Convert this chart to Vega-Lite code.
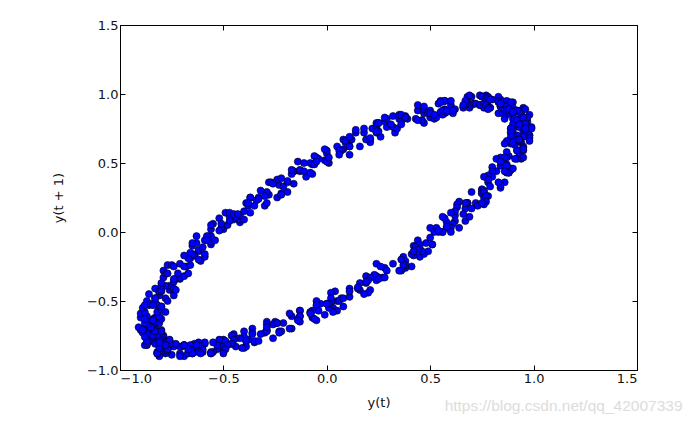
{
"$schema":"https://vega.github.io/schema/vega-lite/v6.json",
"width":517,"height":345,
"autosize":{"type":"none"},
"padding":{"left":120,"top":25,"right":53,"bottom":56},
"background":"white",
"title":{"text":"https://blog.csdn.net/qq_42007339","orient":"bottom","anchor":"end","color":"#dcdcdc","fontSize":15.5,"font":"Liberation Sans","fontWeight":"normal","dx":45,"dy":-14},
"config":{"view":{"stroke":"#000","strokeWidth":1},
"axis":{"labelFont":"DejaVu Sans","labelFontSize":13,"labelColor":"#111","titleFont":"DejaVu Sans","titleFontSize":13,"titleFontWeight":"normal","titleColor":"#111","grid":false,"domainColor":"#000","tickColor":"#000","tickSize":-5,"labelPadding":7,"format":".1f"}},
"data":{"values":[
{"x":0,"y":0.57},{"x":0,"y":0.59},{"x":0.11,"y":0.56},{"x":0.08,"y":0.60},{"x":0.05,"y":0.62},{"x":0.11,"y":0.66},{"x":0.12,"y":0.67},{"x":0.07,"y":0.59},{"x":0.08,"y":0.67},{"x":0.09,"y":0.65},
{"x":0.09,"y":0.66},{"x":0.11,"y":0.62},{"x":0.11,"y":0.69},{"x":0.11,"y":0.62},{"x":0.18,"y":0.72},{"x":0.16,"y":0.62},{"x":0.14,"y":0.72},{"x":0.21,"y":0.67},{"x":0.14,"y":0.74},{"x":0.21,"y":0.65},
{"x":0.22,"y":0.75},{"x":0.18,"y":0.75},{"x":0.26,"y":0.69},{"x":0.24,"y":0.72},{"x":0.19,"y":0.67},{"x":0.24,"y":0.76},{"x":0.21,"y":0.68},{"x":0.29,"y":0.76},{"x":0.25,"y":0.79},{"x":0.25,"y":0.73},
{"x":0.28,"y":0.80},{"x":0.24,"y":0.73},{"x":0.24,"y":0.79},{"x":0.33,"y":0.72},{"x":0.32,"y":0.76},{"x":0.25,"y":0.79},{"x":0.29,"y":0.82},{"x":0.34,"y":0.75},{"x":0.28,"y":0.83},{"x":0.38,"y":0.84},
{"x":0.39,"y":0.82},{"x":0.32,"y":0.84},{"x":0.31,"y":0.78},{"x":0.35,"y":0.84},{"x":0.35,"y":0.82},{"x":0.36,"y":0.80},{"x":0.36,"y":0.78},{"x":0.35,"y":0.85},{"x":0.36,"y":0.85},{"x":0.44,"y":0.88},
{"x":0.46,"y":0.81},{"x":0.38,"y":0.83},{"x":0.47,"y":0.79},{"x":0.47,"y":0.86},{"x":0.46,"y":0.81},{"x":0.43,"y":0.82},{"x":0.50,"y":0.83},{"x":0.44,"y":0.81},{"x":0.50,"y":0.88},{"x":0.47,"y":0.89},
{"x":0.44,"y":0.92},{"x":0.47,"y":0.91},{"x":0.49,"y":0.86},{"x":0.52,"y":0.82},{"x":0.57,"y":0.89},{"x":0.53,"y":0.83},{"x":0.54,"y":0.93},{"x":0.50,"y":0.86},{"x":0.52,"y":0.85},{"x":0.57,"y":0.86},
{"x":0.57,"y":0.88},{"x":0.57,"y":0.95},{"x":0.56,"y":0.85},{"x":0.61,"y":0.86},{"x":0.55,"y":0.95},{"x":0.57,"y":0.95},{"x":0.55,"y":0.87},{"x":0.55,"y":0.94},{"x":0.60,"y":0.92},{"x":0.56,"y":0.88},
{"x":0.66,"y":0.91},{"x":0.58,"y":0.87},{"x":0.60,"y":0.95},{"x":0.58,"y":0.88},{"x":0.69,"y":0.90},{"x":0.68,"y":0.93},{"x":0.62,"y":0.89},{"x":0.61,"y":0.88},{"x":0.68,"y":0.94},{"x":0.68,"y":0.98},
{"x":0.70,"y":0.92},{"x":0.67,"y":0.95},{"x":0.66,"y":0.90},{"x":0.74,"y":0.92},{"x":0.74,"y":0.99},{"x":0.71,"y":0.93},{"x":0.76,"y":0.92},{"x":0.66,"y":0.92},{"x":0.76,"y":0.90},{"x":0.77,"y":0.96},
{"x":0.72,"y":0.93},{"x":0.70,"y":0.98},{"x":0.78,"y":0.90},{"x":0.69,"y":0.99},{"x":0.78,"y":0.95},{"x":0.77,"y":0.96},{"x":0.77,"y":0.99},{"x":0.74,"y":0.92},{"x":0.76,"y":0.93},{"x":0.79,"y":0.90},
{"x":0.75,"y":0.98},{"x":0.77,"y":0.97},{"x":0.80,"y":0.96},{"x":0.78,"y":0.98},{"x":0.77,"y":0.92},{"x":0.78,"y":0.97},{"x":0.84,"y":0.96},{"x":0.83,"y":0.98},{"x":0.79,"y":0.90},{"x":0.83,"y":0.95},
{"x":0.79,"y":0.96},{"x":0.78,"y":0.90},{"x":0.78,"y":0.89},{"x":0.88,"y":0.88},{"x":0.89,"y":0.89},{"x":0.83,"y":0.94},{"x":0.86,"y":0.92},{"x":0.88,"y":0.94},{"x":0.87,"y":0.94},{"x":0.90,"y":0.89},
{"x":0.84,"y":0.91},{"x":0.88,"y":0.87},{"x":0.84,"y":0.91},{"x":0.90,"y":0.94},{"x":0.83,"y":0.86},{"x":0.86,"y":0.92},{"x":0.86,"y":0.89},{"x":0.84,"y":0.93},{"x":0.90,"y":0.90},{"x":0.92,"y":0.88},
{"x":0.85,"y":0.88},{"x":0.87,"y":0.95},{"x":0.87,"y":0.92},{"x":0.84,"y":0.93},{"x":0.87,"y":0.91},{"x":0.85,"y":0.86},{"x":0.89,"y":0.94},{"x":0.86,"y":0.88},{"x":0.87,"y":0.85},{"x":0.94,"y":0.86},
{"x":0.94,"y":0.84},{"x":0.90,"y":0.88},{"x":0.95,"y":0.90},{"x":0.86,"y":0.82},{"x":0.94,"y":0.88},{"x":0.87,"y":0.88},{"x":0.90,"y":0.82},{"x":0.93,"y":0.87},{"x":0.96,"y":0.89},{"x":0.88,"y":0.88},
{"x":0.92,"y":0.88},{"x":0.97,"y":0.80},{"x":0.94,"y":0.81},{"x":0.88,"y":0.89},{"x":0.90,"y":0.78},{"x":0.98,"y":0.85},{"x":0.90,"y":0.86},{"x":0.90,"y":0.87},{"x":0.91,"y":0.82},{"x":0.93,"y":0.76},
{"x":0.99,"y":0.76},{"x":0.97,"y":0.76},{"x":0.95,"y":0.78},{"x":0.96,"y":0.79},{"x":0.92,"y":0.81},{"x":0.97,"y":0.83},{"x":0.99,"y":0.75},{"x":0.95,"y":0.83},{"x":0.89,"y":0.75},{"x":0.96,"y":0.72},
{"x":0.89,"y":0.72},{"x":0.90,"y":0.74},{"x":0.92,"y":0.70},{"x":0.95,"y":0.73},{"x":0.89,"y":0.75},{"x":0.93,"y":0.78},{"x":0.98,"y":0.70},{"x":0.89,"y":0.72},{"x":0.96,"y":0.74},{"x":0.95,"y":0.69},
{"x":0.90,"y":0.69},{"x":0.98,"y":0.70},{"x":0.90,"y":0.69},{"x":0.96,"y":0.75},{"x":0.94,"y":0.65},{"x":0.98,"y":0.68},{"x":0.89,"y":0.69},{"x":0.89,"y":0.64},{"x":0.95,"y":0.62},{"x":0.98,"y":0.66},
{"x":0.91,"y":0.63},{"x":0.88,"y":0.66},{"x":0.95,"y":0.61},{"x":0.95,"y":0.59},{"x":0.90,"y":0.65},{"x":0.93,"y":0.66},{"x":0.93,"y":0.67},{"x":0.93,"y":0.67},{"x":0.87,"y":0.66},{"x":0.92,"y":0.59},
{"x":0.86,"y":0.64},{"x":0.88,"y":0.55},{"x":0.95,"y":0.60},{"x":0.87,"y":0.54},{"x":0.93,"y":0.55},{"x":0.94,"y":0.53},{"x":0.95,"y":0.54},{"x":0.87,"y":0.58},{"x":0.85,"y":0.50},{"x":0.92,"y":0.59},
{"x":0.87,"y":0.49},{"x":0.84,"y":0.54},{"x":0.84,"y":0.48},{"x":0.92,"y":0.53},{"x":0.86,"y":0.54},{"x":0.82,"y":0.53},{"x":0.86,"y":0.48},{"x":0.89,"y":0.46},{"x":0.84,"y":0.51},{"x":0.91,"y":0.53},
{"x":0.88,"y":0.43},{"x":0.89,"y":0.45},{"x":0.90,"y":0.46},{"x":0.87,"y":0.48},{"x":0.82,"y":0.44},{"x":0.80,"y":0.47},{"x":0.88,"y":0.43},{"x":0.87,"y":0.43},{"x":0.80,"y":0.44},{"x":0.80,"y":0.40},
{"x":0.86,"y":0.44},{"x":0.78,"y":0.36},{"x":0.78,"y":0.41},{"x":0.86,"y":0.36},{"x":0.84,"y":0.32},{"x":0.84,"y":0.34},{"x":0.75,"y":0.31},{"x":0.76,"y":0.40},{"x":0.78,"y":0.38},{"x":0.75,"y":0.30},
{"x":0.83,"y":0.36},{"x":0.76,"y":0.30},{"x":0.79,"y":0.33},{"x":0.75,"y":0.28},{"x":0.78,"y":0.26},{"x":0.75,"y":0.28},{"x":0.70,"y":0.29},{"x":0.76,"y":0.29},{"x":0.76,"y":0.25},{"x":0.72,"y":0.21},
{"x":0.77,"y":0.26},{"x":0.68,"y":0.21},{"x":0.68,"y":0.21},{"x":0.77,"y":0.22},{"x":0.76,"y":0.20},{"x":0.73,"y":0.19},{"x":0.75,"y":0.21},{"x":0.67,"y":0.17},{"x":0.68,"y":0.21},{"x":0.67,"y":0.21},
{"x":0.64,"y":0.22},{"x":0.63,"y":0.20},{"x":0.62,"y":0.12},{"x":0.63,"y":0.18},{"x":0.70,"y":0.17},{"x":0.67,"y":0.08},{"x":0.69,"y":0.11},{"x":0.62,"y":0.15},{"x":0.58,"y":0.07},{"x":0.66,"y":0.13},
{"x":0.57,"y":0.10},{"x":0.60,"y":0.14},{"x":0.58,"y":0.03},{"x":0.64,"y":0.03},{"x":0.62,"y":0.08},{"x":0.56,"y":0.11},{"x":0.56,"y":0},{"x":0.61,"y":0.06},{"x":0.60,"y":0.03},{"x":0.54,"y":0},
{"x":0.60,"y":0},{"x":0.58,"y":0.04},{"x":0.53,"y":0.03},{"x":0.50,"y":0.03},{"x":0.52,"y":0},{"x":0.56,"y":0},{"x":0.54,"y":0.01},{"x":0.51,"y":-0.09},{"x":0.51,"y":-0.09},{"x":0.48,"y":-0.08},
{"x":0.44,"y":-0.12},{"x":0.44,"y":-0.06},{"x":0.50,"y":-0.04},{"x":0.44,"y":-0.11},{"x":0.49,"y":-0.14},{"x":0.45,"y":-0.09},{"x":0.42,"y":-0.10},{"x":0.43,"y":-0.11},{"x":0.45,"y":-0.18},{"x":0.47,"y":-0.16},
{"x":0.45,"y":-0.12},{"x":0.46,"y":-0.14},{"x":0.44,"y":-0.13},{"x":0.37,"y":-0.18},{"x":0.38,"y":-0.21},{"x":0.42,"y":-0.17},{"x":0.41,"y":-0.16},{"x":0.42,"y":-0.14},{"x":0.38,"y":-0.26},{"x":0.41,"y":-0.25},
{"x":0.38,"y":-0.24},{"x":0.37,"y":-0.24},{"x":0.36,"y":-0.28},{"x":0.36,"y":-0.20},{"x":0.35,"y":-0.28},{"x":0.28,"y":-0.26},{"x":0.32,"y":-0.23},{"x":0.29,"y":-0.28},{"x":0.24,"y":-0.23},{"x":0.24,"y":-0.32},
{"x":0.24,"y":-0.33},{"x":0.26,"y":-0.25},{"x":0.27,"y":-0.33},{"x":0.25,"y":-0.33},{"x":0.19,"y":-0.37},{"x":0.23,"y":-0.31},{"x":0.24,"y":-0.35},{"x":0.28,"y":-0.33},{"x":0.25,"y":-0.34},{"x":0.19,"y":-0.32},
{"x":0.16,"y":-0.42},{"x":0.21,"y":-0.42},{"x":0.21,"y":-0.33},{"x":0.15,"y":-0.41},{"x":0.20,"y":-0.35},{"x":0.19,"y":-0.36},{"x":0.20,"y":-0.44},{"x":0.16,"y":-0.37},{"x":0.18,"y":-0.45},{"x":0.11,"y":-0.41},
{"x":0.11,"y":-0.47},{"x":0.07,"y":-0.48},{"x":0.15,"y":-0.40},{"x":0.11,"y":-0.43},{"x":0.05,"y":-0.50},{"x":0.06,"y":-0.50},{"x":0.04,"y":-0.43},{"x":0.02,"y":-0.51},{"x":0.02,"y":-0.44},{"x":0.08,"y":-0.54},
{"x":0.08,"y":-0.48},{"x":0.03,"y":-0.55},{"x":0,"y":-0.52},{"x":0.01,"y":-0.55},{"x":0.05,"y":-0.57},{"x":0.02,"y":-0.48},{"x":0.03,"y":-0.58},{"x":-0.03,"y":-0.52},{"x":-0.05,"y":-0.50},{"x":0.01,"y":-0.52},
{"x":-0.05,"y":-0.53},{"x":-0.01,"y":-0.60},{"x":-0.07,"y":-0.62},{"x":0,"y":-0.52},{"x":-0.05,"y":-0.64},{"x":-0.06,"y":-0.63},{"x":-0.04,"y":-0.57},{"x":-0.13,"y":-0.57},{"x":-0.13,"y":-0.65},{"x":-0.14,"y":-0.63},
{"x":-0.13,"y":-0.57},{"x":-0.07,"y":-0.57},{"x":-0.08,"y":-0.58},{"x":-0.08,"y":-0.59},{"x":-0.17,"y":-0.61},{"x":-0.18,"y":-0.59},{"x":-0.13,"y":-0.61},{"x":-0.21,"y":-0.66},{"x":-0.13,"y":-0.61},{"x":-0.17,"y":-0.70},
{"x":-0.24,"y":-0.66},{"x":-0.14,"y":-0.64},{"x":-0.23,"y":-0.72},{"x":-0.18,"y":-0.70},{"x":-0.25,"y":-0.65},{"x":-0.26,"y":-0.67},{"x":-0.29,"y":-0.65},{"x":-0.22,"y":-0.72},{"x":-0.29,"y":-0.67},{"x":-0.24,"y":-0.66},
{"x":-0.26,"y":-0.77},{"x":-0.30,"y":-0.73},{"x":-0.29,"y":-0.71},{"x":-0.23,"y":-0.73},{"x":-0.29,"y":-0.72},{"x":-0.32,"y":-0.74},{"x":-0.29,"y":-0.69},{"x":-0.36,"y":-0.70},{"x":-0.35,"y":-0.80},{"x":-0.36,"y":-0.73},
{"x":-0.35,"y":-0.79},{"x":-0.33,"y":-0.79},{"x":-0.38,"y":-0.78},{"x":-0.40,"y":-0.72},{"x":-0.40,"y":-0.76},{"x":-0.39,"y":-0.79},{"x":-0.39,"y":-0.79},{"x":-0.36,"y":-0.74},{"x":-0.39,"y":-0.83},{"x":-0.42,"y":-0.77},
{"x":-0.44,"y":-0.77},{"x":-0.45,"y":-0.74},{"x":-0.44,"y":-0.83},{"x":-0.46,"y":-0.75},{"x":-0.40,"y":-0.84},{"x":-0.41,"y":-0.84},{"x":-0.50,"y":-0.85},{"x":-0.50,"y":-0.86},{"x":-0.51,"y":-0.83},{"x":-0.50,"y":-0.83},
{"x":-0.45,"y":-0.78},{"x":-0.50,"y":-0.78},{"x":-0.46,"y":-0.81},{"x":-0.52,"y":-0.78},{"x":-0.46,"y":-0.81},{"x":-0.49,"y":-0.79},{"x":-0.48,"y":-0.82},{"x":-0.53,"y":-0.85},{"x":-0.56,"y":-0.88},{"x":-0.49,"y":-0.85},
{"x":-0.50,"y":-0.88},{"x":-0.55,"y":-0.87},{"x":-0.60,"y":-0.82},{"x":-0.59,"y":-0.81},{"x":-0.60,"y":-0.81},{"x":-0.53,"y":-0.82},{"x":-0.55,"y":-0.80},{"x":-0.61,"y":-0.86},{"x":-0.56,"y":-0.87},{"x":-0.64,"y":-0.87},
{"x":-0.59,"y":-0.80},{"x":-0.56,"y":-0.88},{"x":-0.60,"y":-0.87},{"x":-0.62,"y":-0.80},{"x":-0.67,"y":-0.87},{"x":-0.65,"y":-0.82},{"x":-0.60,"y":-0.85},{"x":-0.62,"y":-0.87},{"x":-0.62,"y":-0.82},{"x":-0.61,"y":-0.88},
{"x":-0.69,"y":-0.90},{"x":-0.64,"y":-0.81},{"x":-0.65,"y":-0.84},{"x":-0.69,"y":-0.82},{"x":-0.65,"y":-0.88},{"x":-0.63,"y":-0.82},{"x":-0.71,"y":-0.88},{"x":-0.67,"y":-0.88},{"x":-0.66,"y":-0.82},{"x":-0.66,"y":-0.85},
{"x":-0.65,"y":-0.88},{"x":-0.67,"y":-0.85},{"x":-0.75,"y":-0.81},{"x":-0.70,"y":-0.83},{"x":-0.69,"y":-0.82},{"x":-0.76,"y":-0.82},{"x":-0.71,"y":-0.83},{"x":-0.69,"y":-0.82},{"x":-0.78,"y":-0.85},{"x":-0.75,"y":-0.89},
{"x":-0.78,"y":-0.82},{"x":-0.78,"y":-0.88},{"x":-0.78,"y":-0.83},{"x":-0.71,"y":-0.90},{"x":-0.74,"y":-0.83},{"x":-0.80,"y":-0.87},{"x":-0.81,"y":-0.90},{"x":-0.80,"y":-0.80},{"x":-0.80,"y":-0.81},{"x":-0.73,"y":-0.81},
{"x":-0.76,"y":-0.82},{"x":-0.82,"y":-0.88},{"x":-0.82,"y":-0.79},{"x":-0.77,"y":-0.79},{"x":-0.84,"y":-0.78},{"x":-0.82,"y":-0.87},{"x":-0.77,"y":-0.84},{"x":-0.82,"y":-0.88},{"x":-0.84,"y":-0.78},{"x":-0.76,"y":-0.78},
{"x":-0.78,"y":-0.86},{"x":-0.77,"y":-0.85},{"x":-0.77,"y":-0.86},{"x":-0.77,"y":-0.85},{"x":-0.78,"y":-0.82},{"x":-0.81,"y":-0.76},{"x":-0.87,"y":-0.82},{"x":-0.81,"y":-0.84},{"x":-0.85,"y":-0.79},{"x":-0.85,"y":-0.78},
{"x":-0.88,"y":-0.82},{"x":-0.79,"y":-0.76},{"x":-0.84,"y":-0.76},{"x":-0.87,"y":-0.81},{"x":-0.83,"y":-0.81},{"x":-0.82,"y":-0.76},{"x":-0.87,"y":-0.79},{"x":-0.79,"y":-0.75},{"x":-0.81,"y":-0.76},{"x":-0.81,"y":-0.80},
{"x":-0.86,"y":-0.73},{"x":-0.90,"y":-0.71},{"x":-0.87,"y":-0.74},{"x":-0.80,"y":-0.71},{"x":-0.80,"y":-0.74},{"x":-0.80,"y":-0.74},{"x":-0.82,"y":-0.75},{"x":-0.80,"y":-0.72},{"x":-0.84,"y":-0.68},{"x":-0.84,"y":-0.70},
{"x":-0.84,"y":-0.75},{"x":-0.83,"y":-0.69},{"x":-0.89,"y":-0.73},{"x":-0.91,"y":-0.69},{"x":-0.84,"y":-0.69},{"x":-0.88,"y":-0.76},{"x":-0.88,"y":-0.69},{"x":-0.88,"y":-0.69},{"x":-0.87,"y":-0.66},{"x":-0.85,"y":-0.64},
{"x":-0.87,"y":-0.67},{"x":-0.83,"y":-0.72},{"x":-0.88,"y":-0.63},{"x":-0.89,"y":-0.71},{"x":-0.83,"y":-0.62},{"x":-0.85,"y":-0.69},{"x":-0.85,"y":-0.69},{"x":-0.84,"y":-0.63},{"x":-0.87,"y":-0.67},{"x":-0.83,"y":-0.65},
{"x":-0.89,"y":-0.60},{"x":-0.87,"y":-0.61},{"x":-0.84,"y":-0.64},{"x":-0.81,"y":-0.66},{"x":-0.80,"y":-0.63},{"x":-0.88,"y":-0.66},{"x":-0.90,"y":-0.62},{"x":-0.90,"y":-0.59},{"x":-0.80,"y":-0.54},{"x":-0.88,"y":-0.63},
{"x":-0.81,"y":-0.61},{"x":-0.82,"y":-0.58},{"x":-0.88,"y":-0.58},{"x":-0.83,"y":-0.51},{"x":-0.82,"y":-0.53},{"x":-0.87,"y":-0.50},{"x":-0.89,"y":-0.55},{"x":-0.86,"y":-0.53},{"x":-0.80,"y":-0.56},{"x":-0.78,"y":-0.58},
{"x":-0.88,"y":-0.53},{"x":-0.85,"y":-0.52},{"x":-0.86,"y":-0.45},{"x":-0.82,"y":-0.53},{"x":-0.80,"y":-0.54},{"x":-0.81,"y":-0.44},{"x":-0.81,"y":-0.46},{"x":-0.84,"y":-0.53},{"x":-0.78,"y":-0.48},{"x":-0.77,"y":-0.50},
{"x":-0.83,"y":-0.48},{"x":-0.83,"y":-0.48},{"x":-0.76,"y":-0.42},{"x":-0.83,"y":-0.41},{"x":-0.74,"y":-0.43},{"x":-0.81,"y":-0.43},{"x":-0.74,"y":-0.46},{"x":-0.76,"y":-0.39},{"x":-0.80,"y":-0.43},{"x":-0.80,"y":-0.42},
{"x":-0.74,"y":-0.41},{"x":-0.73,"y":-0.34},{"x":-0.73,"y":-0.42},{"x":-0.74,"y":-0.36},{"x":-0.78,"y":-0.39},{"x":-0.71,"y":-0.34},{"x":-0.79,"y":-0.33},{"x":-0.80,"y":-0.39},{"x":-0.79,"y":-0.28},{"x":-0.80,"y":-0.37},
{"x":-0.78,"y":-0.30},{"x":-0.71,"y":-0.33},{"x":-0.69,"y":-0.32},{"x":-0.74,"y":-0.34},{"x":-0.68,"y":-0.25},{"x":-0.67,"y":-0.30},{"x":-0.77,"y":-0.24},{"x":-0.77,"y":-0.30},{"x":-0.75,"y":-0.24},{"x":-0.72,"y":-0.30},
{"x":-0.66,"y":-0.19},{"x":-0.74,"y":-0.25},{"x":-0.64,"y":-0.17},{"x":-0.71,"y":-0.23},{"x":-0.64,"y":-0.17},{"x":-0.69,"y":-0.25},{"x":-0.65,"y":-0.16},{"x":-0.66,"y":-0.24},{"x":-0.61,"y":-0.21},{"x":-0.67,"y":-0.19},
{"x":-0.62,"y":-0.14},{"x":-0.69,"y":-0.17},{"x":-0.62,"y":-0.20},{"x":-0.62,"y":-0.13},{"x":-0.59,"y":-0.18},{"x":-0.59,"y":-0.16},{"x":-0.65,"y":-0.10},{"x":-0.63,"y":-0.08},{"x":-0.66,"y":-0.15},{"x":-0.65,"y":-0.08},
{"x":-0.56,"y":-0.09},{"x":-0.57,"y":-0.05},{"x":-0.60,"y":-0.11},{"x":-0.63,"y":-0.03},{"x":-0.56,"y":-0.07},{"x":-0.54,"y":-0.06},{"x":-0.59,"y":-0.06},{"x":-0.57,"y":-0.03},{"x":-0.56,"y":-0.03},{"x":-0.58,"y":-0.03},
{"x":-0.56,"y":0.02},{"x":-0.58,"y":-0.06},{"x":-0.50,"y":0.02},{"x":-0.55,"y":0.06},{"x":-0.56,"y":0.05},{"x":-0.48,"y":0.05},{"x":-0.51,"y":0.03},{"x":-0.45,"y":0.09},{"x":-0.52,"y":0.01},{"x":-0.47,"y":0.11},
{"x":-0.47,"y":0.08},{"x":-0.52,"y":0.10},{"x":-0.51,"y":0.06},{"x":-0.43,"y":0.11},{"x":-0.49,"y":0.14},{"x":-0.47,"y":0.14},{"x":-0.42,"y":0.07},{"x":-0.42,"y":0.09},{"x":-0.40,"y":0.09},{"x":-0.44,"y":0.11},
{"x":-0.45,"y":0.13},{"x":-0.37,"y":0.14},{"x":-0.39,"y":0.21},{"x":-0.42,"y":0.12},{"x":-0.43,"y":0.13},{"x":-0.35,"y":0.19},{"x":-0.40,"y":0.15},{"x":-0.38,"y":0.19},{"x":-0.30,"y":0.19},{"x":-0.37,"y":0.25},
{"x":-0.37,"y":0.25},{"x":-0.33,"y":0.25},{"x":-0.38,"y":0.21},{"x":-0.28,"y":0.27},{"x":-0.29,"y":0.21},{"x":-0.29,"y":0.29},{"x":-0.32,"y":0.30},{"x":-0.34,"y":0.23},{"x":-0.30,"y":0.26},{"x":-0.33,"y":0.24},
{"x":-0.24,"y":0.25},{"x":-0.22,"y":0.28},{"x":-0.28,"y":0.36},{"x":-0.22,"y":0.27},{"x":-0.19,"y":0.29},{"x":-0.27,"y":0.36},{"x":-0.23,"y":0.34},{"x":-0.24,"y":0.38},{"x":-0.22,"y":0.39},{"x":-0.26,"y":0.35},
{"x":-0.16,"y":0.35},{"x":-0.21,"y":0.33},{"x":-0.16,"y":0.44},{"x":-0.16,"y":0.44},{"x":-0.13,"y":0.44},{"x":-0.19,"y":0.36},{"x":-0.10,"y":0.40},{"x":-0.19,"y":0.37},{"x":-0.17,"y":0.42},{"x":-0.17,"y":0.45},
{"x":-0.07,"y":0.42},{"x":-0.08,"y":0.43},{"x":-0.08,"y":0.50},{"x":-0.14,"y":0.51},{"x":-0.13,"y":0.45},{"x":-0.07,"y":0.49},{"x":-0.11,"y":0.50},{"x":-0.11,"y":0.44},{"x":-0.01,"y":0.52},{"x":-0.04,"y":0.53},
{"x":-0.05,"y":0.54},{"x":-0.06,"y":0.55},{"x":0.01,"y":0.50},{"x":-0.06,"y":0.49},{"x":-0.05,"y":0.51},{"x":0,"y":0.51},{"x":-0.01,"y":0.60},{"x":0.06,"y":0.59},{"x":0.06,"y":0.56},{"x":0.01,"y":0.54}
]},
"layer":[
{"mark":{"type":"circle","fill":"#0000ff","stroke":"#000000","strokeWidth":0.6,"size":50,"opacity":1,"fillOpacity":1},
"encoding":{
"x":{"field":"x","type":"quantitative","scale":{"domain":[-1,1.5],"nice":false,"zero":false},"axis":{"orient":"bottom","title":"y(t)","titlePadding":11,"values":[-1,-0.5,0,0.5,1,1.5]}},
"y":{"field":"y","type":"quantitative","scale":{"domain":[-1,1.5],"nice":false,"zero":false},"axis":{"orient":"left","title":"y(t + 1)","titlePadding":21,"values":[-1,-0.5,0,0.5,1,1.5]}}}},
{"mark":{"type":"point","opacity":0},
"encoding":{
"x":{"field":"x","type":"quantitative","axis":{"orient":"top","labels":false,"title":null,"values":[-1,-0.5,0,0.5,1,1.5]}},
"y":{"field":"y","type":"quantitative","axis":{"orient":"right","labels":false,"title":null,"values":[-1,-0.5,0,0.5,1,1.5]}}}}
],
"resolve":{"axis":{"x":"independent","y":"independent"}}
}
